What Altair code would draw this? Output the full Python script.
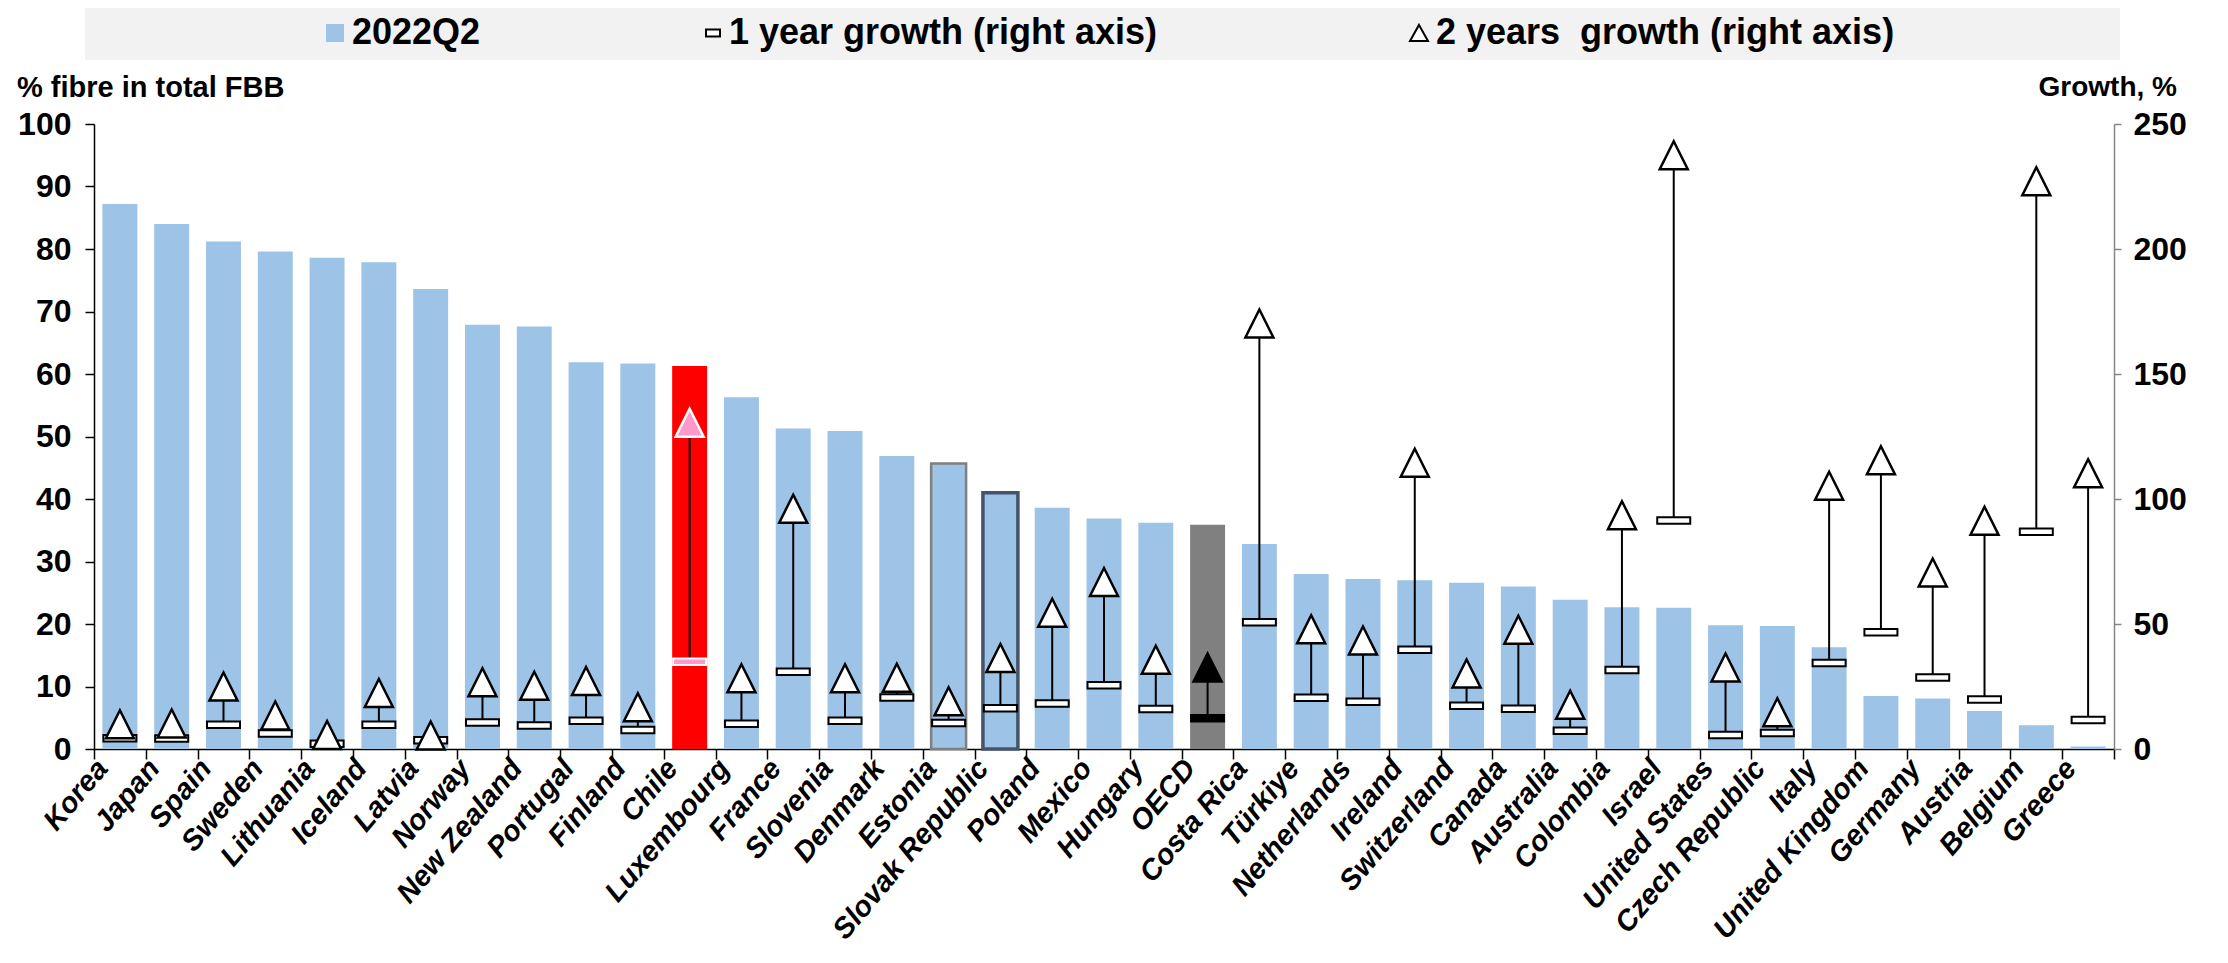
import altair as alt
import pandas as pd

countries = ["Korea", "Japan", "Spain", "Sweden", "Lithuania", "Iceland", "Latvia", "Norway",
             "New Zealand", "Portugal", "Finland", "Chile", "Luxembourg", "France", "Slovenia",
             "Denmark", "Estonia", "Slovak Republic", "Poland", "Mexico", "Hungary", "OECD",
             "Costa Rica", "Türkiye", "Netherlands", "Ireland", "Switzerland", "Canada",
             "Australia", "Colombia", "Israel", "United States", "Czech Republic", "Italy",
             "United Kingdom", "Germany", "Austria", "Belgium", "Greece"]
fibre = [87.2, 84.0, 81.2, 79.6, 78.6, 77.9, 73.6, 67.9, 67.6, 61.9, 61.7, 61.3, 56.3, 51.3,
         50.9, 46.9, 45.7, 41.0, 38.6, 36.9, 36.2, 35.9, 32.8, 28.0, 27.2, 27.0, 26.6, 26.0,
         23.9, 22.7, 22.6, 19.8, 19.7, 16.3, 8.5, 8.1, 6.1, 3.8, 0.4]
growth_1y = [4.3, 4.2, 9.7, 6.2, 2.1, 9.7, 3.5, 10.6, 9.4, 11.3, 7.6, 34.9, 10.1, 30.9, 11.3,
             20.6, 10.4, 16.3, 18.2, 25.5, 16.0, 12.3, 50.7, 20.5, 18.9, 39.7, 17.3, 16.1,
             7.3, 31.6, 91.4, 5.6, 6.4, 34.4, 46.7, 28.6, 19.8, 86.9, 11.6]
growth_2y = [9.9, 10.2, 25.0, 13.4, 5.6, 22.4, 5.4, 26.7, 25.3, 27.2, 16.7, 130.5, 28.3, 96.1,
             28.3, 28.5, 19.1, 36.4, 54.5, 66.8, 35.7, 32.6, 170.2, 47.9, 43.4, 114.5, 30.2,
             47.7, 17.7, 93.5, 237.5, 32.6, 14.7, 105.3, 115.5, 70.6, 91.3, 227.1, 110.3]

left_ticks = [0, 10, 20, 30, 40, 50, 60, 70, 80, 90, 100]
right_ticks = [0, 50, 100, 150, 200, 250]
legend_labels = ["2022Q2", "1 year growth (right axis)", "2 years\u00a0 growth (right axis)"]
left_title = "% fibre in total FBB"
right_title = "Growth, %"

FONT = "Liberation Sans"
W, H = 2020, 625
BLUE = "#9DC3E6"

df = pd.DataFrame({"country": countries, "fibre": fibre, "g1": growth_1y, "g2": growth_2y})

x_axis = alt.Axis(
    title=None, labelAngle=-50, labelAlign="right", labelBaseline="middle",
    labelFont=FONT, labelFontSize=29, labelFontWeight="bold", labelFontStyle="italic",
    labelColor="black", labelPadding=4, labelOffset=-18, labelLimit=500, labelOverlap=False,
    tickBand="extent", ticks=True, tickColor="black", tickSize=10, tickWidth=1.5,
    domainColor="black", domainWidth=1.5, grid=True, gridColor="white", gridWidth=2,
)
x_enc = alt.X("country:N", sort=countries,
              scale=alt.Scale(paddingInner=0, paddingOuter=0), axis=x_axis)
x_plain = alt.X("country:N", sort=countries)

base = alt.Chart(df)

bars = base.transform_calculate(
    fillc="datum.country == 'Chile' ? '#FF0000' : datum.country == 'OECD' ? '#808080' : '" + BLUE + "'",
    strokec="datum.country == 'Slovak Republic' ? '#44546A' : datum.country == 'Estonia' ? '#7F7F7F' : '" + BLUE + "'",
    sw="datum.country == 'Slovak Republic' ? 3.5 : datum.country == 'Estonia' ? 2.5 : 0",
).mark_bar(width=alt.RelativeBandSize(0.675)).encode(
    x=x_enc,
    y=alt.Y("fibre:Q", scale=alt.Scale(domain=[0, 100], nice=False),
            axis=alt.Axis(orient="left", values=left_ticks, title=None, grid=True,
                          gridColor="white", gridWidth=2, tickColor="black", tickSize=9,
                          tickWidth=1.5, domainColor="black", domainWidth=1.5,
                          labelFont=FONT, labelFontSize=32, labelFontWeight="bold",
                          labelColor="black", labelPadding=14)),
    fill=alt.Fill("fillc:N", scale=None),
    stroke=alt.Stroke("strokec:N", scale=None),
    strokeWidth=alt.StrokeWidth("sw:Q", scale=None),
)

gscale = alt.Scale(domain=[0, 250], nice=False)

rules = base.mark_rule(color="black", strokeWidth=2).encode(
    x=x_plain,
    y=alt.Y("g1:Q", scale=gscale,
            axis=alt.Axis(orient="right", values=right_ticks, title=None, grid=False,
                          tickColor="#868686", tickSize=7, tickWidth=1.5,
                          domainColor="#868686", domainWidth=1.5,
                          labelFont=FONT, labelFontSize=32, labelFontWeight="bold",
                          labelColor="black", labelPadding=12)),
    y2="g2:Q",
)

marker_calc = dict(
    mfill="datum.country == 'Chile' ? '#FF99CC' : datum.country == 'OECD' ? 'black' : 'white'",
    mstroke="datum.country == 'Chile' ? 'white' : 'black'",
)

box_shape = "M-1,-0.19L1,-0.19L1,0.19L-1,0.19Z"
tri_shape = "M0,-1L1,1L-1,1Z"

boxes = base.transform_calculate(**marker_calc).mark_point(
    shape=box_shape, size=33 * 33, filled=True, opacity=1, strokeWidth=2
).encode(
    x=x_plain,
    y=alt.Y("g1:Q", scale=gscale, axis=None),
    fill=alt.Fill("mfill:N", scale=None),
    stroke=alt.Stroke("mstroke:N", scale=None),
)

tris = base.transform_calculate(**marker_calc).mark_point(
    shape=tri_shape, size=28 * 28, filled=True, opacity=1, strokeWidth=2.5
).encode(
    x=x_plain,
    y=alt.Y("g2:Q", scale=gscale, axis=None),
    fill=alt.Fill("mfill:N", scale=None),
    stroke=alt.Stroke("mstroke:N", scale=None),
)

one = pd.DataFrame({"k": [0]})
leg_bg = alt.Chart(one).mark_rect(color="#F2F2F2").encode(
    x=alt.value(-9), x2=alt.value(2026), y=alt.value(-116), y2=alt.value(-64))
leg_sq = alt.Chart(one).mark_rect(color=BLUE).encode(
    x=alt.value(232), x2=alt.value(250), y=alt.value(-100), y2=alt.value(-82))
leg_box = alt.Chart(one).mark_point(
    shape="M-1,-0.5L1,-0.5L1,0.5L-1,0.5Z", size=196, filled=True, fill="white",
    stroke="black", strokeWidth=2, opacity=1).encode(x=alt.value(619), y=alt.value(-91))
leg_tri = alt.Chart(one).mark_point(
    shape="M0,-0.9L1,0.9L-1,0.9Z", size=324, filled=True, fill="white",
    stroke="black", strokeWidth=2, opacity=1).encode(x=alt.value(1325), y=alt.value(-91))

leg_df = pd.DataFrame({"label": legend_labels, "px": [258, 635, 1342]})
leg_text = alt.Chart(leg_df).mark_text(
    font=FONT, fontSize=36, fontWeight="bold", align="left", baseline="middle", color="black"
).encode(x=alt.X("px:Q", scale=None), y=alt.value(-91), text="label:N")

t_left = alt.Chart(pd.DataFrame({"t": [left_title]})).mark_text(
    font=FONT, fontSize=29, fontWeight="bold", align="left", baseline="middle", color="black"
).encode(x=alt.value(-77), y=alt.value(-36), text="t:N")
t_right = alt.Chart(pd.DataFrame({"t": [right_title]})).mark_text(
    font=FONT, fontSize=28, fontWeight="bold", align="right", baseline="middle", color="black"
).encode(x=alt.value(2083), y=alt.value(-36), text="t:N")

chart = alt.layer(
    bars, rules, boxes, tris, leg_bg, leg_sq, leg_box, leg_tri, leg_text, t_left, t_right
).resolve_scale(y="independent").properties(
    width=W, height=H,
    autosize=alt.AutoSizeParams(type="none"),
    padding={"left": 86, "top": 116, "right": 100, "bottom": 205},
).configure_view(fill="#F2F2F2", strokeWidth=0).configure(background="white")

chart.save("out.html", embed_options={"renderer": "svg", "actions": False})
